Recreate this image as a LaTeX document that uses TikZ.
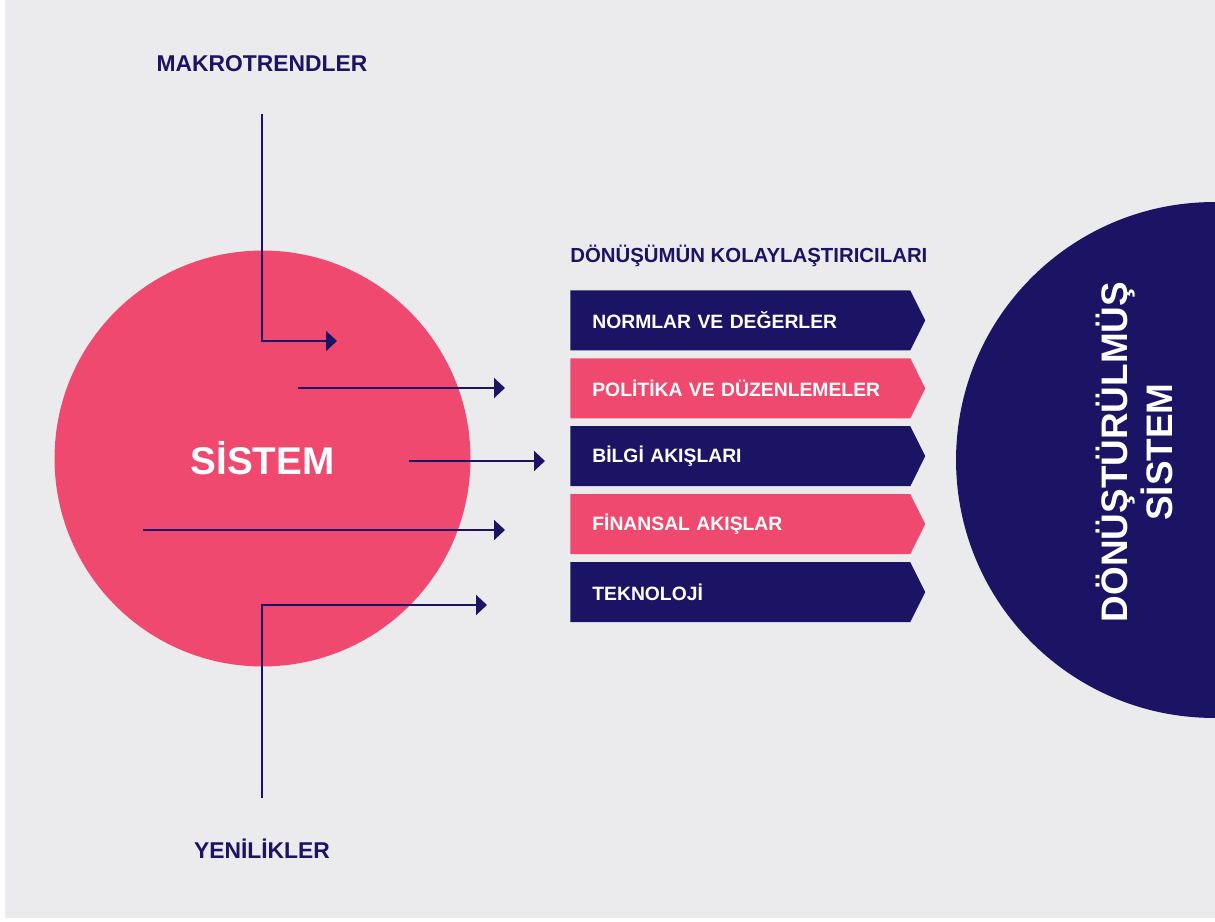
\documentclass[tikz,border=0pt]{standalone}
\usepackage{fontspec}
\setmainfont{Liberation Sans}
\usetikzlibrary{
        arrows.meta,
        positioning,
        shapes.symbols
    }
\definecolor{lacivert}{HTML}{1B1464}
\definecolor{pembe}{HTML}{F0496F}
\definecolor{zemin}{HTML}{EBEBED}
\tikzset{>={Triangle[length=0.22cm,width=0.4cm]},node distance=0.145cm}
\tikzset{
    baslik/.style={text=lacivert,font=\bfseries\fontsize{13}{15}\selectfont},
    kutu/.style={signal,signal to=east,signal pointer angle=127,
        minimum height=1.2cm,text width=5.92cm,inner xsep=0.44cm,inner ysep=0pt,
        align=left,text=white,font=\bfseries\fontsize{11}{13}\selectfont},
    ok/.style={->,draw=lacivert,line width=0.04cm}
}

\begin{document}
\begin{tikzpicture}[x=0.02cm,y=-0.02cm]
                    \useasboundingbox (0,0) rectangle (1215,922);
                    \clip (0,0) rectangle (1215,922);
                    \fill[white] (0,0) rectangle (1215,922);
                    \fill[zemin] (5,0) rectangle (1215,918);
                    % daireler
                    \node[circle,fill=pembe,minimum size=8.32cm,inner sep=0pt,text=white,
                        font=\bfseries\fontsize{22}{26}\selectfont] (sis) at (262.5,458.5) {SİSTEM};
                    \node[circle,fill=lacivert,minimum size=10.32cm] (donsis) at (1214,460) {};
                    \node[rotate=90,text=white,align=center,
                        font=\bfseries\fontsize{21}{25.6}\selectfont] (donyazi) at (1134,452) {DÖNÜŞTÜRÜLMÜŞ\\SİSTEM};
                    % basliklar
                    \node[baslik] (mak) at (262,64) {MAKROTRENDLER};
                    \node[baslik] (yen) at (262,849) {YENİLİKLER};
                    \node[baslik,font=\bfseries\fontsize{11.6}{13}\selectfont,anchor=west,inner xsep=0pt] (kol) at (570,256) {DÖNÜŞÜMÜN KOLAYLAŞTIRICILARI};
                    % kolaylastiricilar
                    \node[kutu,fill=lacivert,anchor=north west] (norm) at (570,290) {NORMLAR VE DEĞERLER};
                    \node[kutu,fill=pembe,below=of norm] (pol) {POLİTİKA VE DÜZENLEMELER};
                    \node[kutu,fill=lacivert,below=of pol] (bil) {BİLGİ AKIŞLARI};
                    \node[kutu,fill=pembe,below=of bil] (fin) {FİNANSAL AKIŞLAR};
                    \node[kutu,fill=lacivert,below=of fin] (tek) {TEKNOLOJİ};
                    % oklar
                    \coordinate (m1) at (262,114);
                    \coordinate (m2) at (337,341);
                    \coordinate (y1) at (262,798);
                    \coordinate (y2) at (487,605);
                    \draw[ok] (m1) |- (m2);
                    \draw[ok] (y1) |- (y2);
                    \foreach \a/\b/\y [count=\i] in {298/505/388, 409/545/461, 143/505/530} {
                        \coordinate (s\i) at (\a,\y);
                        \coordinate (e\i) at (\b,\y);
                        \draw[ok] (s\i) -- (e\i);
                    }
                \end{tikzpicture}
\end{document}
